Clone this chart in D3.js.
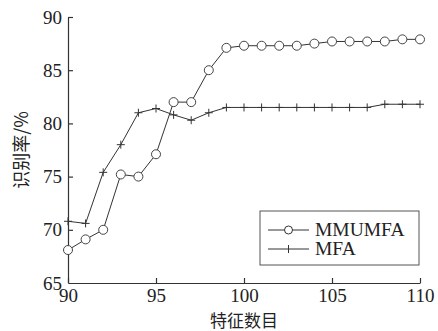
<!DOCTYPE html>
<html>
<head>
<meta charset="utf-8">
<script src="https://cdn.jsdelivr.net/npm/d3@7"></script>
<style>
body { margin: 0; background: #fff; }
svg { display: block; }
</style>
</head>
<body>
<svg width="438" height="331"></svg>
<script>
// feature counts on the x axis
var features = [90,91,92,93,94,95,96,97,98,99,100,101,102,103,104,105,106,107,108,109,110]

// recognition rate (%)
var mmumfa = [68.1,69.1,70.0,75.2,75.0,77.1,82.0,82.0,85.0,87.1,87.3,87.3,87.3,87.3,87.5,87.7,87.7,87.7,87.7,87.9,87.9]
var mfa = [70.8,70.6,75.4,78.0,81.0,81.4,80.8,80.3,81.0,81.5,81.5,81.5,81.5,81.5,81.5,81.5,81.5,81.5,81.8,81.8,81.8]

var xTicks = [90,95,100,105,110]
var yTicks = [65,70,75,80,85,90]

var margins = {top:17,right:18,bottom:48,left:68}
var screen = {width:438,height:331}
var width = screen.width - margins.left - margins.right
var height = screen.height - margins.top - margins.bottom

var serif = "Liberation Serif, Times New Roman, serif"

var svg = d3.select("svg")

var xScale = d3.scaleLinear()
                .domain([90,110])
                .range([0,width])

var yScale = d3.scaleLinear()
                .domain([65,90])
                .range([height,0])

var plot = svg.append("g")
    .attr("transform","translate("+margins.left+","+margins.top+")")

// axes with ticks pointing inward
var xAxis = d3.axisBottom(xScale).tickValues(xTicks).tickSizeInner(-5).tickSizeOuter(0).tickPadding(3)
var yAxis = d3.axisLeft(yScale).tickValues(yTicks).tickSizeInner(-5).tickSizeOuter(0).tickPadding(6)

var gx = plot.append("g")
    .attr("transform","translate(0,"+height+")")
    .call(xAxis)

var gy = plot.append("g").call(yAxis)

gx.attr("font-family",serif).attr("font-size",19)
gy.attr("font-family",serif).attr("font-size",19)
plot.selectAll(".tick text")
    .style("font-family",serif).style("font-size","19px").attr("fill","#222")
gx.selectAll("text").attr("dy","0.85em")

plot.selectAll(".domain").attr("stroke","#333").attr("stroke-width",1.2)
plot.selectAll(".tick line").attr("stroke","#333").attr("stroke-width",1.2)
gy.selectAll(".tick").filter(function(d){return d==65}).select("line").remove()

var lineGenerator = function(values)
    {
        return d3.line()
            .x(function(d,i){return xScale(features[i])})
            .y(function(d){return yScale(d)})(values)
    }

plot.append("path")
    .attr("d",lineGenerator(mfa))
    .attr("fill","none").attr("stroke","#333").attr("stroke-width",1)

plot.append("path")
    .attr("d",lineGenerator(mmumfa))
    .attr("fill","none").attr("stroke","#333").attr("stroke-width",1)

// plus markers for MFA
plot.selectAll(".plus")
    .data(mfa)
    .enter()
    .append("path")
    .attr("class","plus")
    .attr("d",function(d,i){
        var x = xScale(features[i]), y = yScale(d)
        return "M"+(x-4)+","+y+"H"+(x+4)+"M"+x+","+(y-4)+"V"+(y+4)
    })
    .attr("stroke","#333").attr("stroke-width",1).attr("fill","none")

// circle markers for MMUMFA
plot.selectAll(".circ")
    .data(mmumfa)
    .enter()
    .append("circle")
    .attr("class","circ")
    .attr("cx",function(d,i){return xScale(features[i])})
    .attr("cy",function(d){return yScale(d)})
    .attr("r",4.5)
    .attr("fill","#fff").attr("stroke","#444").attr("stroke-width",1)

// legend
var legend = svg.append("g").attr("transform","translate(260,211)")
legend.append("rect")
    .attr("width",159).attr("height",54)
    .attr("fill","#fff").attr("stroke","#555").attr("stroke-width",1)

var legendItems = [{name:"MMUMFA",mark:"circle"},{name:"MFA",mark:"plus"}]
legendItems.forEach(function(item,i)
    {
        var y = 19 + i*19
        legend.append("line").attr("x1",8).attr("x2",49).attr("y1",y).attr("y2",y)
            .attr("stroke","#333").attr("stroke-width",1)
        if(item.mark=="circle")
            legend.append("circle").attr("cx",28.5).attr("cy",y).attr("r",4)
                .attr("fill","#fff").attr("stroke","#333")
        else
            legend.append("line").attr("x1",28.5).attr("x2",28.5).attr("y1",y-4).attr("y2",y+4)
                .attr("stroke","#333")
        legend.append("text").attr("x",55).attr("y",y+6)
            .attr("font-family",serif).attr("font-size",19.5).attr("fill","#222")
            .text(item.name)
    })

// axis titles
svg.append("text")
    .attr("x",margins.left+width/2).attr("y",326.5)
    .attr("text-anchor","middle")
    .attr("font-family","Noto Sans CJK SC").attr("font-size",17).attr("fill","#222")
    .text("特征数目")

svg.append("text")
    .attr("transform","translate(28,150) rotate(-90)")
    .attr("text-anchor","middle")
    .attr("font-family","Noto Sans CJK SC").attr("font-size",18).attr("fill","#222")
    .text("识别率/%")
</script>
</body>
</html>
